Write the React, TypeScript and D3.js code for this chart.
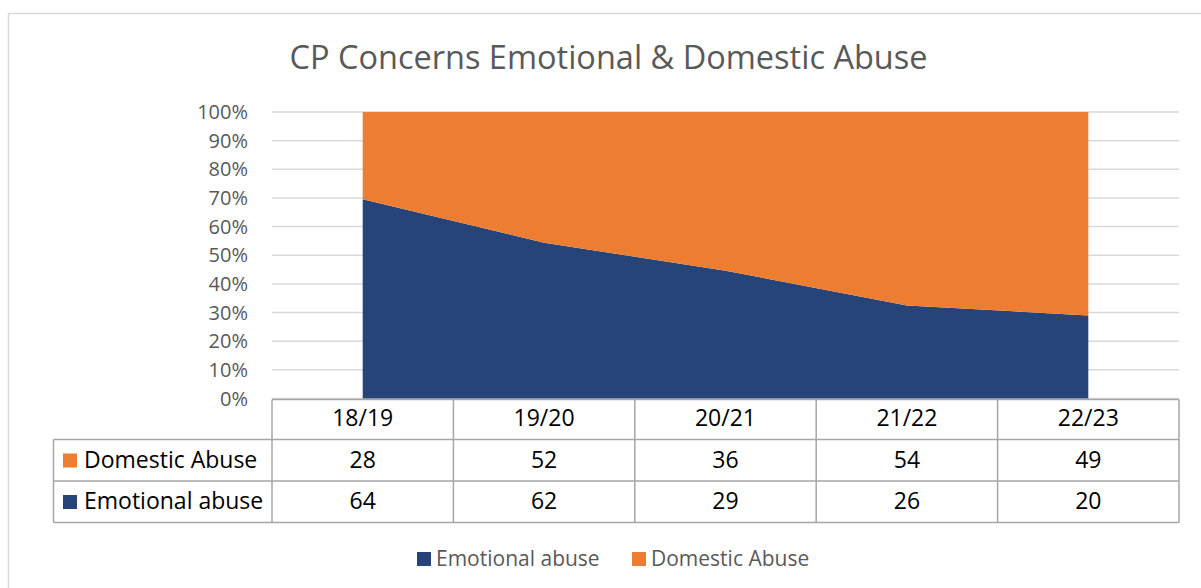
import React from "react";
import * as d3 from "d3";

const categories = ["18/19", "19/20", "20/21", "21/22", "22/23"];
const emotionalAbuse = [64, 62, 29, 26, 20];
const domesticAbuse = [28, 52, 36, 54, 49];
const seriesNames = ["Emotional abuse", "Domestic Abuse"];
const seriesColors = ["#264478", "#ED7D31"];
const yTicks = [0, 0.1, 0.2, 0.3, 0.4, 0.5, 0.6, 0.7, 0.8, 0.9, 1];
const title = "CP Concerns Emotional & Domestic Abuse";

const W = 1201;
const H = 588;
const FONT = "'Open Sans', 'Liberation Sans', sans-serif";

export default function App() {
  const plotLeft = 272;
  const plotRight = 1179;
  const plotTop = 112;
  const plotBottom = 398.5;

  const x = d3.scaleBand<string>().domain(categories).range([plotLeft, plotRight]);
  const cx = (c: string) => (x(c) as number) + x.bandwidth() / 2;
  const y = d3.scaleLinear().domain([0, 1]).range([plotBottom, plotTop]);

  const rows = categories.map((c, i) => ({
    cat: c,
    [seriesNames[0]]: emotionalAbuse[i],
    [seriesNames[1]]: domesticAbuse[i],
  }));
  const stack = d3
    .stack<any>()
    .keys(seriesNames)
    .offset(d3.stackOffsetExpand)
    .order(d3.stackOrderNone);
  const stacked = stack(rows);
  const area = d3
    .area<any>()
    .x((d: any) => cx(d.data.cat))
    .y0((d: any) => y(d[0]))
    .y1((d: any) => y(d[1]));

  const tableLeft = 53.5;
  const rowY = [399.5, 439.5, 481, 522.5];
  const tableRows = [
    { name: seriesNames[1], color: seriesColors[1], values: domesticAbuse },
    { name: seriesNames[0], color: seriesColors[0], values: emotionalAbuse },
  ];
  const lineColor = "#a6a6a6";
  const tfs = 23;

  return (
    <svg
      width={W}
      height={H}
      style={{ position: "absolute", left: 0, top: 0, background: "#fff" }}
      fontFamily={FONT}
    >
      <rect x={8.5} y={13.5} width={W} height={H} fill="#fff" stroke="#d9d9d9" strokeWidth={1.5} />
      <text x={608.5} y={69} textAnchor="middle" fontSize={32.5} fill="#595959">
        {title}
      </text>

      {yTicks.map((t) => (
        <g key={t}>
          <line x1={plotLeft} x2={plotRight} y1={y(t)} y2={y(t)} stroke="#d9d9d9" strokeWidth={1.5} />
          <text x={248} y={y(t) + 7} textAnchor="end" fontSize={20} fill="#595959">
            {d3.format(".0%")(t)}
          </text>
        </g>
      ))}

      {stacked.map((s, i) => (
        <path key={s.key} d={area(s as any) as string} fill={seriesColors[i]} />
      ))}

      <g stroke={lineColor} strokeWidth={1.5} fill="none">
        <line x1={plotLeft} x2={plotRight} y1={rowY[0]} y2={rowY[0]} />
        <line x1={tableLeft} x2={plotRight} y1={rowY[1]} y2={rowY[1]} />
        <line x1={tableLeft} x2={plotRight} y1={rowY[2]} y2={rowY[2]} />
        <line x1={tableLeft} x2={plotRight} y1={rowY[3]} y2={rowY[3]} />
        <line x1={tableLeft} x2={tableLeft} y1={rowY[1]} y2={rowY[3]} />
        {categories.map((c) => (
          <line key={c} x1={x(c)} x2={x(c)} y1={rowY[0]} y2={rowY[3]} />
        ))}
        <line x1={plotRight} x2={plotRight} y1={rowY[0]} y2={rowY[3]} />
      </g>
      {categories.map((c) => (
        <text key={c} x={cx(c)} y={426} textAnchor="middle" fontSize={tfs} fill="#000">
          {c}
        </text>
      ))}
      {tableRows.map((r, ri) => {
        const base = ri === 0 ? 467.5 : 509;
        return (
          <g key={r.name}>
            <rect x={63} y={base - 14} width={14} height={14} fill={r.color} />
            <text x={84} y={base} fontSize={tfs} fill="#000">
              {r.name}
            </text>
            {r.values.map((v, i) => (
              <text key={i} x={cx(categories[i])} y={base} textAnchor="middle" fontSize={tfs} fill="#000">
                {v}
              </text>
            ))}
          </g>
        );
      })}

      <rect x={417} y={552} width={14} height={14} fill={seriesColors[0]} />
      <text x={436} y={565.5} fontSize={21} fill="#595959">
        {seriesNames[0]}
      </text>
      <rect x={632} y={552} width={14} height={14} fill={seriesColors[1]} />
      <text x={651} y={565.5} fontSize={21} fill="#595959">
        {seriesNames[1]}
      </text>
    </svg>
  );
}
